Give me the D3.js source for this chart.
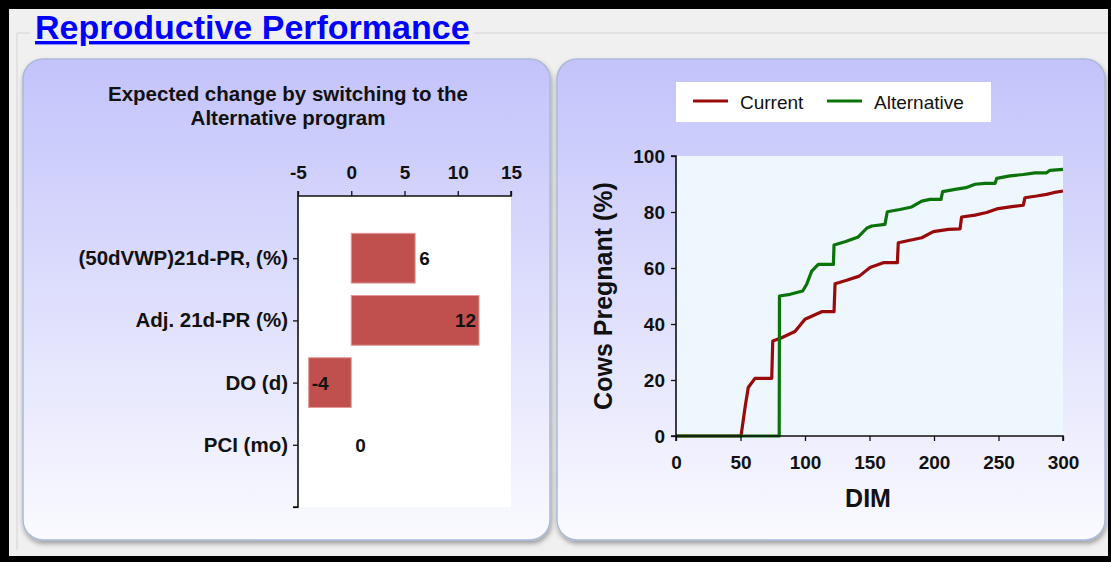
<!DOCTYPE html>
<html><head><meta charset="utf-8">
<script src="https://cdn.jsdelivr.net/npm/d3@7"></script>
<style>
html,body{margin:0;padding:0;background:#000;}
svg{display:block;font-family:Arial,"Liberation Sans",sans-serif;}
</style></head>
<body>
<svg id="c" width="1111" height="562"></svg>
<script>
// ---------- data ----------
const barCategories = ["(50dVWP)21d-PR, (%)", "Adj. 21d-PR (%)", "DO (d)", "PCI (mo)"];
const barValues = [6, 12, -4, 0];
const barTicks = [-5, 0, 5, 10, 15];

const dimCurrent  = [0, 50.4, 53.5, 56, 61.2, 74.2, 75, 81.9, 92.2, 100, 112.9, 122.5, 123.3, 132.3, 142.1, 150.4, 160.7, 171.6, 172.3, 181.4, 190.5, 199.5, 211.1, 220.2, 221.4, 231.8, 240.8, 248.6, 260.2, 269.2, 270.5, 279.6, 287.3, 292.5, 300];
const pregCurrent = [0, 0, 10.1, 17.3, 20.6, 20.6, 33.9, 35.1, 37.3, 41.7, 44.4, 44.4, 54.4, 55.6, 57.1, 60.2, 61.9, 61.9, 69.0, 69.9, 70.8, 73.0, 73.8, 74.0, 78.2, 78.9, 79.8, 81.1, 81.9, 82.4, 85.1, 85.7, 86.3, 86.9, 87.5];
const dimAlt  = [0, 80, 80.2, 88.4, 98.2, 101.3, 105.2, 110.3, 122, 122.5, 131, 141.3, 147.8, 151.7, 162, 163.8, 173.6, 182.7, 190.5, 196.9, 205.4, 206.7, 216.3, 224.8, 231.8, 239.5, 247.3, 248.6, 258.9, 269.2, 278.3, 287.3, 289.9, 300];
const pregAlt = [0, 0, 50, 50.6, 51.8, 54.2, 58.9, 61.3, 61.3, 68.2, 69.4, 71.1, 74.2, 75, 75.6, 80.1, 80.9, 81.8, 83.9, 84.5, 84.5, 87.3, 88.1, 88.7, 89.9, 90.2, 90.2, 92, 92.9, 93.4, 94, 94, 94.9, 95.2];
const seriesNames = ["Current", "Alternative"];
const seriesColors = ["#990a0a", "#0a730a"];
const xTicksDim = [0, 50, 100, 150, 200, 250, 300];
const yTicksPreg = [0, 20, 40, 60, 80, 100];

// ---------- drawing ----------
const FONT = "Arial,'Liberation Sans',sans-serif";
const svg = d3.select("#c");
const defs = svg.append("defs");
const grad = defs.append("linearGradient").attr("id","pg").attr("x1",0).attr("y1",0).attr("x2",0).attr("y2",1);
grad.append("stop").attr("offset","0%").attr("stop-color","#c3c3fb");
grad.append("stop").attr("offset","100%").attr("stop-color","#fafaff");
const sh = defs.append("filter").attr("id","sh").attr("x","-5%").attr("y","-5%").attr("width","110%").attr("height","115%");
sh.append("feDropShadow").attr("dx",1).attr("dy",3).attr("stdDeviation",2.5).attr("flood-color","#000").attr("flood-opacity",0.35);

// page background
svg.append("rect").attr("x",9).attr("y",9).attr("width",1099).attr("height",547).attr("fill","#f0f0f0");
// fieldset frame
svg.append("path").attr("d","M17,550 V33 H1108").attr("fill","none").attr("stroke","#d4d4d4").attr("stroke-width",1);
svg.append("rect").attr("x",30).attr("y",10).attr("width",444).attr("height",40).attr("fill","#f0f0f0");

svg.append("text").attr("x",35).attr("y",39).attr("fill","#0000ff")
  .attr("font-size",34).attr("font-weight","bold").attr("text-decoration","underline").text("Reproductive Performance");

// panels
[[23,59,527,481],[557,59,548,481]].forEach(p=>{
  svg.append("rect").attr("x",p[0]).attr("y",p[1]).attr("width",p[2]).attr("height",p[3]).attr("rx",20).attr("ry",20)
    .attr("fill","url(#pg)").attr("stroke","#aabad6").attr("stroke-width",1.5).attr("filter","url(#sh)");
});

// ---------- left: bar chart ----------
const L = svg.append("g");
L.append("text").attr("x",288).attr("y",101).attr("text-anchor","middle").attr("font-size",20.5).attr("font-weight","bold").attr("fill","#111")
  .text("Expected change by switching to the");
L.append("text").attr("x",288).attr("y",125).attr("text-anchor","middle").attr("font-size",20.5).attr("font-weight","bold").attr("fill","#111")
  .text("Alternative program");

const xb = d3.scaleLinear().domain([-5,15]).range([298,511]);
const yb = d3.scaleLinear().domain([0,5]).range([196,507]);
const bandH = (yb(1)-yb(0))*0.8;
L.append("rect").attr("x",xb(-5)).attr("y",yb(0)).attr("width",xb(15)-xb(-5)).attr("height",yb(5)-yb(0)).attr("fill","#fff");

L.selectAll("rect.bar").data(barValues).join("rect").attr("class","bar")
  .attr("x",d=>xb(Math.min(0,d))).attr("width",d=>Math.abs(xb(d)-xb(0)))
  .attr("y",(d,i)=>yb(i+1)-bandH/2).attr("height",bandH)
  .attr("fill","#c0504d").attr("stroke","#e39a98").attr("stroke-width",1)
  .attr("display",d=>d===0?"none":null);

L.selectAll("text.lab").data(barValues).join("text").attr("class","lab")
  .attr("x",d=> d<0 ? xb(d)+3 : (d>10 ? xb(d)-3 : xb(d)+4))
  .attr("text-anchor",d=> d>10 ? "end" : "start")
  .attr("y",(d,i)=>yb(i+1)+7).attr("font-size",19).attr("font-weight","bold").attr("fill","#111")
  .text(d=>String(d));

const axTop = L.append("g").attr("transform",`translate(0,${yb(0)})`)
  .call(d3.axisTop(xb).tickValues(barTicks).tickSize(5).tickPadding(12).tickFormat(d=>String(d)));
const axLeft = L.append("g").attr("transform",`translate(${xb(-5)},0)`)
  .call(d3.axisLeft(yb).tickValues([1,2,3,4,5]).tickSize(5).tickPadding(5).tickFormat(d=>barCategories[d-1]||""));
[axTop,axLeft].forEach(a=>{
  a.select(".domain").attr("stroke","#111").attr("stroke-width",1.6);
  a.selectAll(".tick line").attr("stroke","#111").attr("stroke-width",1.3);
  a.selectAll("text").attr("font-weight","bold").attr("fill","#111").attr("font-family",FONT);
});
axTop.selectAll("text").attr("font-size",19);
axLeft.selectAll("text").attr("font-size",20.5);
axTop.select(".domain").attr("d",`M${xb(-5)},-5V0H${xb(15)}V-5`);
axLeft.select(".domain").attr("d",`M0,${yb(0)}V${yb(5)}H-5`);

// ---------- right: line chart ----------
const R = svg.append("g");
const x = d3.scaleLinear().domain([0,300]).range([676,1063]);
const y = d3.scaleLinear().domain([0,100]).range([436,156]);
R.append("rect").attr("x",x(0)).attr("y",y(100)).attr("width",x(300)-x(0)).attr("height",y(0)-y(100)).attr("fill","#eef6fe");

const line = d3.line().x(d=>x(d[0])).y(d=>y(d[1]));
const seriesData = [d3.zip(dimCurrent,pregCurrent), d3.zip(dimAlt,pregAlt)];
R.selectAll("path.ser").data(seriesData).join("path").attr("class","ser")
  .attr("d",line).attr("fill","none").attr("stroke",(d,i)=>seriesColors[i]).attr("stroke-width",3.2).attr("stroke-linejoin","round");

const ax = R.append("g").attr("transform",`translate(0,${y(0)})`)
  .call(d3.axisBottom(x).tickValues(xTicksDim).tickSize(5).tickPadding(15));
const ay = R.append("g").attr("transform",`translate(${x(0)},0)`)
  .call(d3.axisLeft(y).tickValues(yTicksPreg).tickSize(5).tickPadding(6));
[ax,ay].forEach(a=>{
  a.select(".domain").attr("stroke","#111").attr("stroke-width",1.6);
  a.selectAll(".tick line").attr("stroke","#111").attr("stroke-width",1.3);
  a.selectAll("text").attr("font-size",19).attr("font-weight","bold").attr("fill","#111").attr("font-family",FONT);
});
ax.select(".domain").attr("d",`M${x(0)},5V0H${x(300)}V5`);
ay.select(".domain").attr("d",`M-5,${y(100)}H0V${y(0)}H-5`);

R.append("text").attr("x",868).attr("y",507).attr("text-anchor","middle").attr("font-size",25).attr("font-weight","bold").attr("fill","#111").text("DIM");
R.append("text").attr("transform","translate(612,296) rotate(-90)").attr("text-anchor","middle").attr("font-size",25).attr("font-weight","bold").attr("fill","#111").text("Cows Pregnant (%)");

// legend
const lg = R.append("g");
lg.append("rect").attr("x",676).attr("y",82).attr("width",315).attr("height",40).attr("fill","#fff");
const legX = [693, 827];
seriesNames.forEach((n,i)=>{
  lg.append("line").attr("x1",legX[i]).attr("x2",legX[i]+35).attr("y1",101).attr("y2",101).attr("stroke",seriesColors[i]).attr("stroke-width",3);
  lg.append("text").attr("x",legX[i]+47).attr("y",109).attr("font-size",19).attr("fill","#111").text(n);
});
</script>
</body></html>
